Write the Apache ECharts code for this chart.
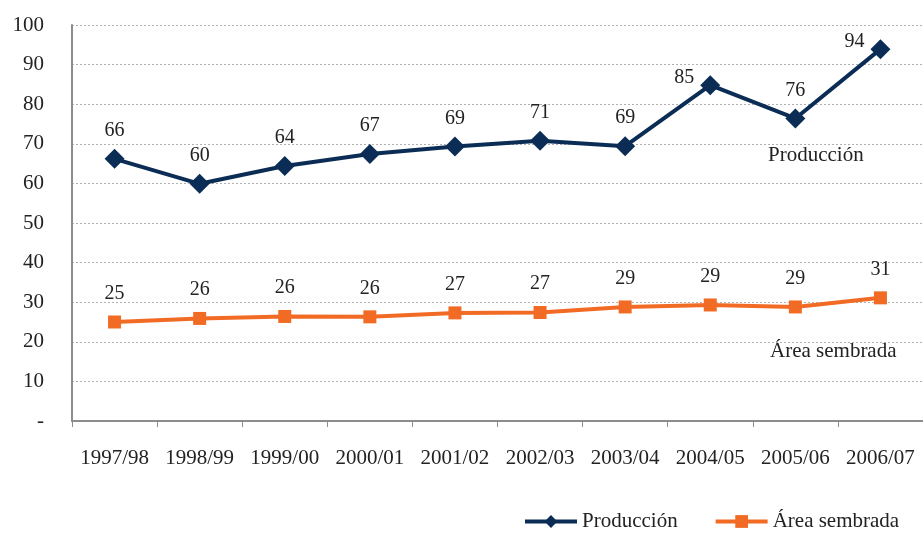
<!DOCTYPE html>
<html>
<head>
<meta charset="utf-8">
<script src="https://cdn.jsdelivr.net/npm/echarts@6/dist/echarts.min.js"></script>
<style>
html,body{margin:0;padding:0;background:#fff;}
#chart{width:923px;height:533px;}
</style>
</head>
<body>
<div id="chart"></div>
<script>
// campañas
var categories = ["1997/98","1998/99","1999/00","2000/01","2001/02","2002/03","2003/04","2004/05","2005/06","2006/07"];
// producción
var produccion = [66.2, 59.9, 64.4, 67.4, 69.3, 70.8, 69.4, 84.8, 76.4, 93.9];
// área sembrada
var areaSembrada = [25.0, 25.9, 26.4, 26.3, 27.3, 27.4, 28.8, 29.3, 28.8, 31.1];
var yTicks = [0, 10, 20, 30, 40, 50, 60, 70, 80, 90, 100];

var fontFam = '"Liberation Serif", "DejaVu Serif", serif';
var navy = '#0b2d55';
var orange = '#f26b25';

// etiquetas desplazadas a la izquierda (85 y 94)
var leftLabels = {7: true, 9: true};
function buildData(values, shiftLeft){
    var out = [];
    for(var i = 0; i < values.length; i++){
        var item = {value: values[i]};
        if(shiftLeft && leftLabels[i]){
            item.label = {position: 'left', distance: 6, offset: [0, -7]};
        }
        out.push(item);
    }
    return out;
}

var chart = echarts.init(document.getElementById("chart"));
var option = {
    animation: false,
    textStyle: {fontFamily: fontFam},
    grid: {left: 72, right: 0, top: 25, bottom: 112, containLabel: false},
    legend: {
        top: 506,
        left: 518,
        itemWidth: 52,
        itemHeight: 16,
        itemGap: 36,
        lineStyle: {width: 4},
        textStyle: {fontFamily: fontFam, fontSize: 21, color: '#222'},
        data: ['Producción', 'Área sembrada']
    },
    xAxis: {
        type: 'category',
        data: categories,
        boundaryGap: true,
        axisLine: {lineStyle: {color: '#8c8c8c', width: 2}},
        axisTick: {show: true, length: 6, lineStyle: {color: '#8c8c8c', width: 1}},
        axisLabel: {fontFamily: fontFam, fontSize: 21, color: '#222', margin: 27, interval: 0}
    },
    yAxis: {
        type: 'value',
        min: yTicks[0],
        max: yTicks[yTicks.length - 1],
        interval: 10,
        axisLine: {show: true, lineStyle: {color: '#8c8c8c', width: 2}},
        axisTick: {show: false},
        splitLine: {lineStyle: {color: '#b0b0b0', type: [2, 2], width: 1}},
        axisLabel: {
            fontFamily: fontFam, fontSize: 21, color: '#222', margin: 28,
            formatter: function(v){ return v === 0 ? '-' : String(v); }
        }
    },
    series: [
        {
            name: 'Producción',
            type: 'line',
            data: buildData(produccion, true),
            symbol: 'diamond',
            symbolSize: 20,
            lineStyle: {color: navy, width: 4},
            itemStyle: {color: navy},
            label: {
                show: true, position: 'top', distance: 8,
                fontFamily: fontFam, fontSize: 20, color: '#222',
                formatter: function(p){ return Math.round(p.value); }
            }
        },
        {
            name: 'Área sembrada',
            type: 'line',
            data: buildData(areaSembrada, false),
            symbol: 'rect',
            symbolSize: 13,
            lineStyle: {color: orange, width: 4},
            itemStyle: {color: orange},
            label: {
                show: true, position: 'top', distance: 12,
                fontFamily: fontFam, fontSize: 20, color: '#222',
                formatter: function(p){ return Math.round(p.value); }
            }
        }
    ],
    graphic: [
        {type: 'text', left: 768, top: 145, style: {text: 'Producción', font: '21px ' + fontFam, fill: '#222'}},
        {type: 'text', left: 770, top: 341, style: {text: 'Área sembrada', font: '21px ' + fontFam, fill: '#222'}}
    ]
};
chart.setOption(option, true);
</script>
</body>
</html>
